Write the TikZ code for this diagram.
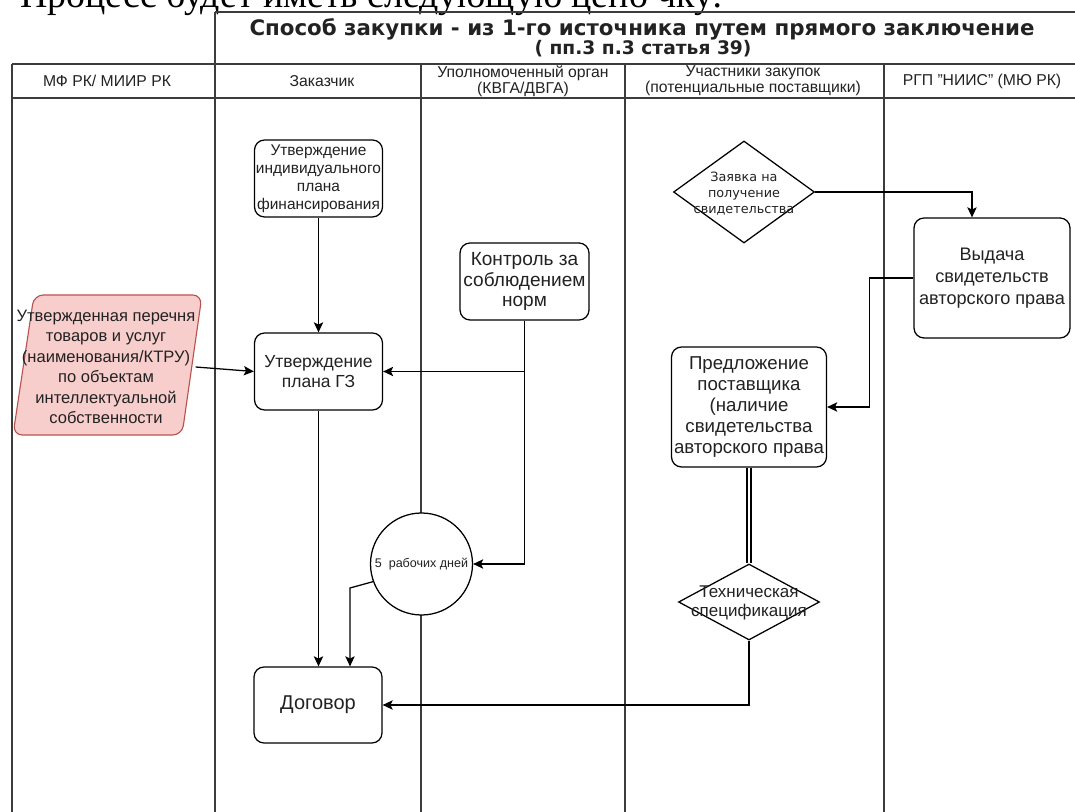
\documentclass[tikz,border=0pt]{standalone}
\usepackage{fontspec}
\setmainfont{Liberation Sans}
\newfontfamily\topserif{Liberation Serif}
\newfontfamily\dejavu{DejaVu Sans}
\usetikzlibrary{shapes.geometric,arrows.meta}
\definecolor{pinkfill}{HTML}{F8CECC}
\definecolor{pinkline}{HTML}{B85450}
\definecolor{lanegray}{HTML}{3C3C3C}
\definecolor{inkc}{HTML}{222222}
\begin{document}
\begin{tikzpicture}[x=0.75pt,y=-0.75pt,
  lane/.style={draw=lanegray,line width=1.1pt},
  shapebox/.style={draw=black,line width=0.95pt,fill=white,rounded corners=7.5pt,align=center,inner sep=0pt,text=inkc},
  conn/.style={draw=black,line width=0.95pt},
  arr/.style={conn,-{Stealth[length=7.5pt,width=7pt,inset=1.6pt]}},
  hdr/.style={align=center,inner sep=0pt,text=inkc,font=\fontsize{11.8pt}{12pt}\selectfont},
  plain/.style={align=center,inner sep=0pt,text=inkc},
]
\useasboundingbox (0,0) rectangle (1075,812);
\clip (0,0) rectangle (1075,812);
\fill[white] (0,0) rectangle (1075,812);
% cut-off text above the diagram
\node[anchor=base west,inner sep=0pt,font=\topserif\fontsize{28.4pt}{30pt}\selectfont] (toptext) at (20,8) {Процесс будет иметь следующую цепо чку:};
% title
\node[plain,font=\dejavu\bfseries\fontsize{16pt}{17pt}\selectfont] (title1) at (642,29) {Способ закупки - из 1-го источника путем прямого заключение};
\node[plain,font=\dejavu\bfseries\fontsize{14pt}{17pt}\selectfont] (title2) at (643,49) {( пп.3 п.3 статья 39)};
% lanes
\draw[lane] (215,12) -- (1075,12);
\draw[lane] (12,64) -- (1075,64);
\draw[lane] (12,98) -- (1075,98);
\draw[lane] (12,64) -- (12,812);
\draw[lane] (215,12) -- (215,812);
\draw[lane] (421,64) -- (421,812);
\draw[lane] (625,64) -- (625,812);
\draw[lane] (884,64) -- (884,812);
% headers
\node[hdr] (h1) at (107,81) {МФ РК/ МИИР РК};
\node[hdr] (h2) at (322,81) {Заказчик};
\node[hdr] (h3) at (523,81) {Уполномоченный орган\\(КВГА/ДВГА)};
\node[hdr] (h4) at (753,81) {Участники закупок\\(потенциальные поставщики)};
\node[hdr] (h5) at (982,81) {РГП "НИИС" (МЮ РК)};
% pink parallelogram
\draw[draw=pinkline,fill=pinkfill,line width=0.85pt,rounded corners=7pt] (34,295) -- (202,295) -- (182,435) -- (13,435) -- cycle;
\node[plain,font=\fontsize{12.4pt}{15.4pt}\selectfont] (perech) at (106,367) {Утвержденная перечня\\товаров и услуг\\(наименования/КТРУ)\\по объектам\\интеллектуальной\\собственности};
% nodes
\node[shapebox,minimum width=96pt,minimum height=57.75pt,font=\fontsize{11.6pt}{13.5pt}\selectfont] (ipf) at (318.5,178.5) {Утверждение\\индивидуального\\плана\\финансирования};
\node[shapebox,minimum width=96pt,minimum height=57.75pt,font=\fontsize{13.1pt}{15.5pt}\selectfont] (pgz) at (318.5,371.5) {Утверждение\\плана ГЗ};
\node[shapebox,minimum width=96pt,minimum height=57pt,font=\fontsize{15pt}{16pt}\selectfont] (dog) at (318,705) {Договор};
\node[shapebox,minimum width=96.75pt,minimum height=57.75pt,font=\fontsize{14.3pt}{15.5pt}\selectfont] (ctrl) at (524.5,281.5) {Контроль за\\соблюдением\\норм};
\node[shapebox,minimum width=117pt,minimum height=90pt,font=\fontsize{13.6pt}{16.5pt}\selectfont] (vyd) at (992,278) {Выдача\\свидетельств\\авторского права};
\node[shapebox,minimum width=116.25pt,minimum height=90pt,font=\fontsize{14pt}{15.9pt}\selectfont] (pred) at (749,407) {Предложение\\поставщика\\(наличие\\свидетельства\\авторского права};
\node[draw=black,line width=0.95pt,fill=white,diamond,inner sep=0pt,minimum width=105.75pt,minimum height=76.5pt] (zv) at (744,192) {};
\node[plain,font=\dejavu\fontsize{9.6pt}{12pt}\selectfont] (zvt) at (744,194) {Заявка на\\получение\\свидетельства};
\node[draw=black,line width=0.95pt,fill=white,diamond,inner sep=0pt,minimum width=105.75pt,minimum height=57pt] (tech) at (749,602) {};
\node[plain,font=\fontsize{12.75pt}{14.25pt}\selectfont] (techt) at (749,603) {Техническая\\спецификация};
\node[draw=black,line width=0.95pt,fill=white,circle,inner sep=0pt,minimum size=76.5pt,font=\fontsize{9.4pt}{11pt}\selectfont,text=inkc] (circ) at (421.5,564) {5\ \ рабочих дней};
% connectors
\draw[arr] (ipf.south) -- (pgz.north);
\draw[arr] (perech.east) -- (pgz.west);
\draw[arr] (ctrl.south) |- (pgz.east);
\draw[arr] (ctrl.south) |- (circ.east);
\draw[arr] (pgz.south) -- (pgz.south |- dog.north);
\coordinate (kink) at (350,588);
\draw[arr] (circ.200) -- (kink) -- (kink |- dog.north);
\draw[arr] (zv.east) -| ([xshift=-15pt]vyd.north);
\draw[arr] (vyd.west) -- ++(-44,0) |- (pred.east);
\draw[conn,double=white,double distance=2.2pt] (pred.south) -- (tech.north);
\draw[arr] (tech.south) |- (dog.east);
\end{tikzpicture}
\end{document}
